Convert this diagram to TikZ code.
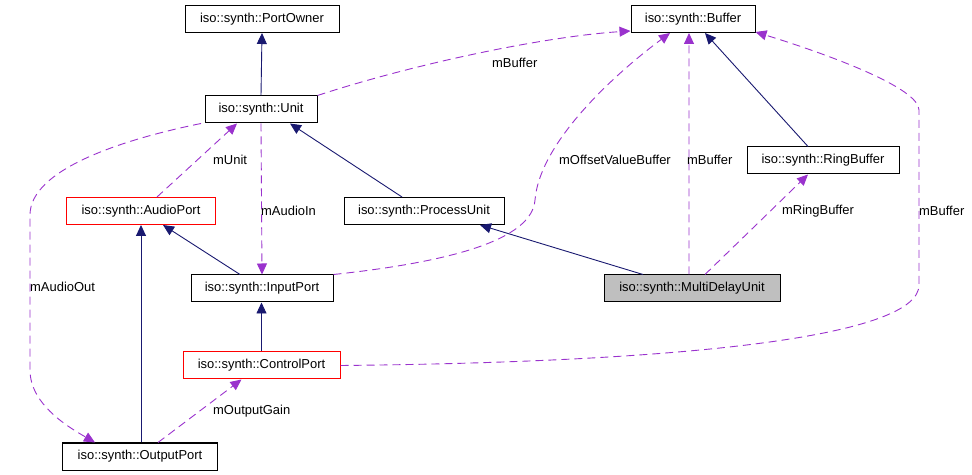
\documentclass[tikz,border=0pt]{standalone}
\usepackage{fontspec}
\setmainfont{Liberation Sans}
\usetikzlibrary{arrows.meta}
\definecolor{navy}{HTML}{191970}
\definecolor{purp}{HTML}{9A32CD}
\definecolor{grayfill}{HTML}{BFBFBF}
\begin{document}
\begin{tikzpicture}[x=1bp,y=-1bp,
  cls/.style={draw=black, line width=1bp, inner sep=0pt, minimum height=27bp, font=\fontsize{13}{15}\selectfont, fill=white},
  redcls/.style={cls, draw=red},
  inh/.style={draw=navy, line width=0.9bp, -{Triangle[length=11bp,width=10bp]}},
  use/.style={draw=purp, line width=0.9bp, dash pattern=on 8bp off 5bp, -{Triangle[length=11bp,width=10bp]}},
  lbl/.style={font=\fontsize{13}{15}\selectfont, inner sep=0pt, anchor=west}]
\useasboundingbox (0,0) rectangle (972,475);
% nodes
\node[cls, minimum width=154bp] (po) at (262,19) {iso::synth::PortOwner};
\node[cls, minimum width=112bp] (unit) at (261,109.5) {iso::synth::Unit};
\node[cls, minimum width=124bp] (buf) at (693,19) {iso::synth::Buffer};
\node[cls, minimum width=152bp] (rb) at (823,160.5) {iso::synth::RingBuffer};
\node[redcls, minimum width=148bp] (ap) at (141,211) {iso::synth::AudioPort};
\node[cls, minimum width=160bp] (pu) at (424,211) {iso::synth::ProcessUnit};
\node[cls, minimum width=142bp] (inp) at (262,288.5) {iso::synth::InputPort};
\node[cls, minimum width=176bp, fill=grayfill] (mdu) at (692,288.5) {iso::synth::MultiDelayUnit};
\node[redcls, minimum width=157bp] (cp) at (261.5,365.5) {iso::synth::ControlPort};
\node[cls, minimum width=154bp] (op) at (140,456.5) {iso::synth::OutputPort};
% inheritance
\draw[inh] (unit.north) -- (po.south);
\draw[inh] ([xshift=-22bp]pu.north) -- ([xshift=29bp]unit.south);
\draw[inh] ([xshift=-22bp]inp.north) -- ([xshift=22bp]ap.south);
\draw[inh] ([xshift=1bp]op.north) -- (ap.south);
\draw[inh] (cp.north) -- (cp.north |- inp.south);
\draw[inh] ([xshift=-49bp]mdu.north) -- ([xshift=56bp]pu.south);
\draw[inh] ([xshift=-15bp]rb.north) -- ([xshift=12bp]buf.south);
% usage
\draw[use] (unit.north east) .. controls (420,62) and (550,36) .. ([yshift=2bp]buf.south west);
\draw[use] ([xshift=16bp]ap.north) -- ([xshift=-24bp]unit.south);
\draw[use] (unit.south) -- (inp.north);
\draw[use] ([xshift=-60bp]unit.south) .. controls (120,140) and (30,170) .. (30,215)
   -- (30,370) .. controls (30,405) and (70,428) .. ([xshift=-45bp]op.north);
\draw[use] (inp.north east) .. controls (450,262) and (532,240) .. (535,200)
   .. controls (540,140) and (620,70) .. ([xshift=-23bp]buf.south);
\draw[use] ([xshift=-3bp]mdu.north) -- ([xshift=-4bp]buf.south);
\draw[use] ([xshift=13bp]mdu.north) -- ([xshift=-15bp]rb.south);
\draw[use] (cp.east) .. controls (700,362) and (919,335) .. (919,285)
   -- (919,110) .. controls (919,88) and (830,55) .. ([yshift=1bp]buf.south east);
\draw[use] ([xshift=18bp]op.north) -- ([xshift=-20bp]cp.south);
% labels
\node[lbl] (l1) at (492,63) {mBuffer};
\node[lbl] (l2) at (213,160) {mUnit};
\node[lbl] (l3) at (261,211) {mAudioIn};
\node[lbl] (l4) at (559,160) {mOffsetValueBuffer};
\node[lbl] (l5) at (687,160) {mBuffer};
\node[lbl] (l6) at (782,211) {mRingBuffer};
\node[lbl] (l7) at (919,211) {mBuffer};
\node[lbl] (l8) at (30,287) {mAudioOut};
\node[lbl] (l9) at (213,411) {mOutputGain};
\end{tikzpicture}
\end{document}
